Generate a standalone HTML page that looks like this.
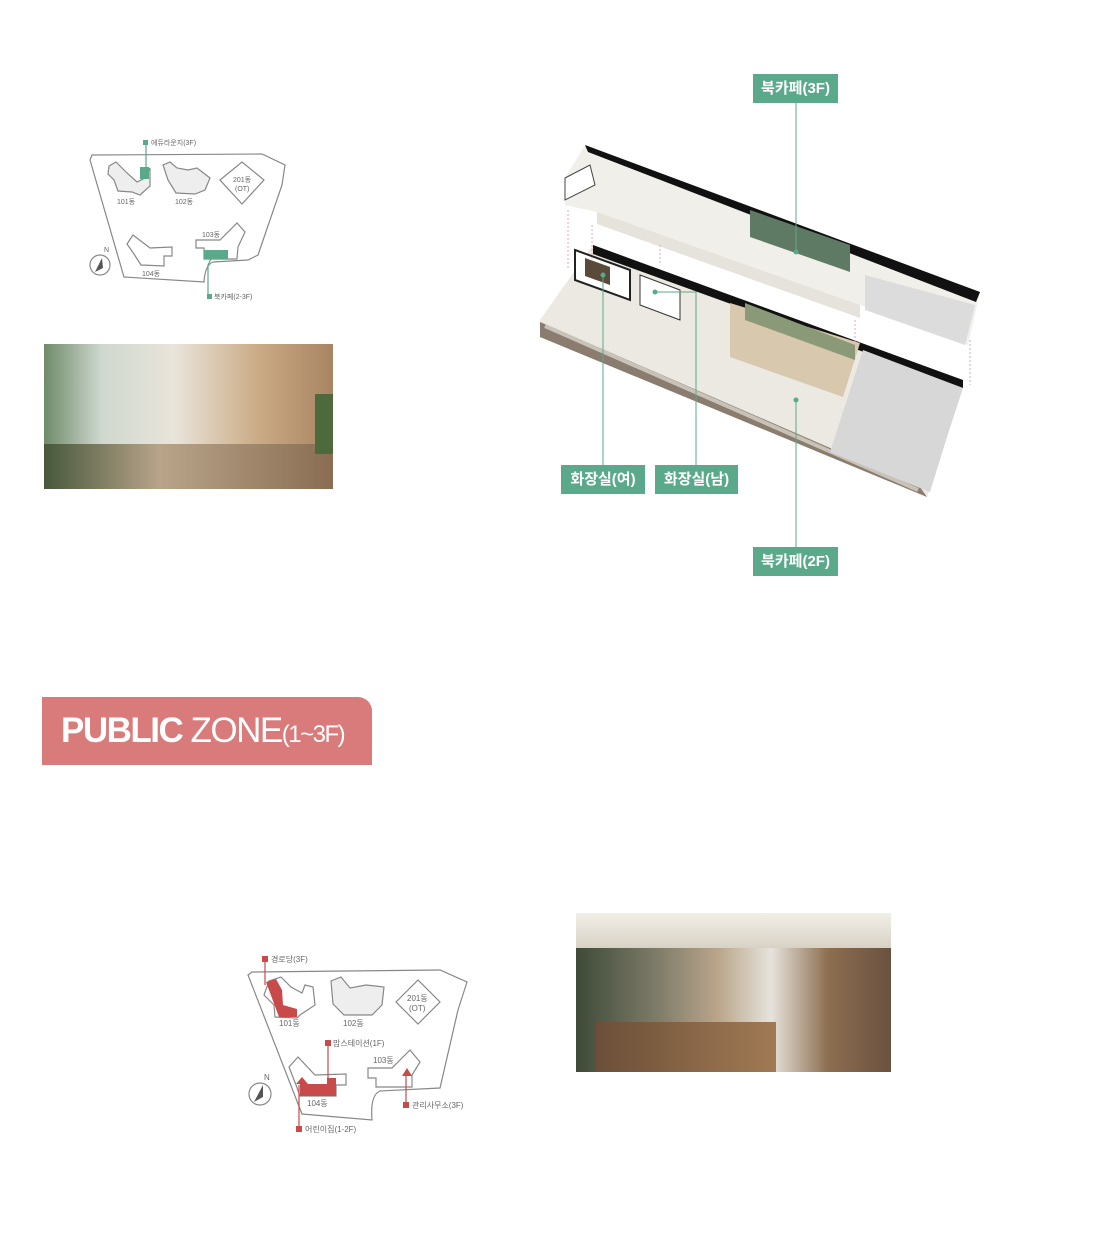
<!DOCTYPE html><html><head><meta charset="utf-8"><style>
body{margin:0;width:1100px;height:1236px;background:#fff;position:relative;overflow:hidden;font-family:"Liberation Sans","Noto Sans CJK KR",sans-serif}
.lb{position:absolute;background:#5aa98a;color:#fff;font-size:15px;font-weight:bold;text-align:center;line-height:29px;height:29px}
.ph{position:absolute}
</style></head><body>
<svg width="1100" height="1236" style="position:absolute;left:0;top:0" font-family="Liberation Sans,Noto Sans CJK KR,sans-serif">
<!-- map 1 -->
<g stroke="#888" stroke-width="1.2" fill="none">
<path d="M92,155 L262,154 L285,165 L282,185 L258,255 L248,260 L213,262 Q205,265 204,282 L124,277 L90,160 Z"/>
<path d="M109,166 L116,162 L126,172 L137,182 L145,178 L150,168 L150,186 L140,195 L132,192 L118,191 L114,180 L108,174 Z" fill="#eee"/>
<path d="M163,165 L170,162 L177,168 L188,170 L197,168 L210,178 L205,190 L195,194 L176,193 L168,180 Z" fill="#eee"/>
<path d="M220,180 L242,162 L264,180 L242,204 Z" fill="#fff"/>
<path d="M127,244 L133,235 L150,248 L172,247 L172,256 L164,256 L164,266 L141,265 L134,254 Z" fill="#fff"/>
<path d="M196,240 L220,240 L237,223 L245,232 L238,247 L237,259 L204,259 L204,248 L196,248 Z" fill="#fff"/>
<line x1="146" y1="143" x2="146" y2="168" stroke="#5aa98a"/>
<polyline points="211,259 208,265 208,296" stroke="#5aa98a"/>
<circle cx="100" cy="265" r="10"/>
</g>
<rect x="140" y="167" width="9" height="12" fill="#5aa98a"/>
<rect x="204" y="250" width="24" height="9" fill="#5aa98a"/>
<rect x="143" y="140" width="5" height="5" fill="#5aa98a"/>
<rect x="207" y="294" width="5" height="5" fill="#5aa98a"/>
<path d="M95,272 L102,258 L103,268 Z" fill="#555"/>
<g font-size="7" fill="#666">
<text x="151" y="145">에듀라운지(3F)</text><text x="214" y="299">북카페(2-3F)</text>
<text x="117" y="204">101동</text><text x="175" y="204">102동</text><text x="233" y="182">201동</text><text x="235" y="191">(OT)</text>
<text x="202" y="237">103동</text><text x="142" y="276">104동</text><text x="104" y="252">N</text></g>

<!-- map 2 -->
<g stroke="#888" stroke-width="1.2" fill="none">
<path d="M252,972 L440,970 L467,982 L458,1010 L440,1088 L380,1091 Q370,1095 372,1120 L302,1114 L248,975 Z"/>
<path d="M269,981 L281,977 L291,987 L302,993 L305,985 L313,987 L315,1005 L300,1015 L297,1018 L275,1017 L274,1005 L264,995 Z" fill="#fff"/>
<path d="M331,981 L341,977 L350,988 L366,985 L384,987 L382,1005 L372,1015 L344,1015 L333,1004 Z" fill="#eee"/>
<path d="M396,1002 L418,980 L440,1002 L418,1024 Z"/>
<path d="M289,1067 L298,1057 L315,1075 L346,1074 L346,1085 L336,1085 L336,1096 L300,1096 L296,1085 Z" fill="#fff"/>
<path d="M368,1068 L392,1068 L410,1050 L420,1062 L412,1075 L412,1087 L376,1087 L376,1078 L368,1078 Z" fill="#fff"/>
<line x1="265" y1="960" x2="265" y2="985" stroke="#c94a4a"/>
<line x1="328" y1="1044" x2="328" y2="1082" stroke="#c94a4a"/>
<line x1="299" y1="1085" x2="299" y2="1128" stroke="#c94a4a"/>
<line x1="406" y1="1075" x2="406" y2="1104" stroke="#c94a4a"/>
<circle cx="260" cy="1094" r="11"/>
</g>
<path d="M266,982 L276,979 L282,990 L283,1005 L297,1009 L297,1017 L279,1017 Z" fill="#c94a4a"/>
<rect x="300" y="1084" width="36" height="12" fill="#c94a4a"/><rect x="327" y="1078" width="9" height="6" fill="#c94a4a"/>
<path d="M296,1084 L302,1077 L308,1084 Z" fill="#c94a4a"/><path d="M402,1076 L407,1068 L412,1076 Z" fill="#c94a4a"/>
<g fill="#c94a4a"><rect x="262" y="956" width="6" height="6"/><rect x="325" y="1040" width="6" height="6"/><rect x="296" y="1126" width="6" height="6"/><rect x="403" y="1102" width="6" height="6"/></g>
<path d="M254,1102 L263,1085 L263,1097 Z" fill="#555"/>
<g font-size="8" fill="#666">
<text x="271" y="962">경로당(3F)</text><text x="333" y="1046">맘스테이션(1F)</text><text x="305" y="1132">어린이집(1-2F)</text><text x="412" y="1108">관리사무소(3F)</text>
<text x="279" y="1026">101동</text><text x="343" y="1026">102동</text><text x="407" y="1001">201동</text><text x="409" y="1011">(OT)</text>
<text x="373" y="1063">103동</text><text x="307" y="1106">104동</text><text x="264" y="1080">N</text></g>

<!-- isometric: lower floor -->
<path d="M593,245 L963,380 L947,437 L927,497 L540,337 L540,320 Z" fill="#ece9e2"/>
<path d="M540,322 L920,487 L927,497 L540,337 Z" fill="#8a7c6e"/>
<path d="M545,326 L918,490" stroke="#c9c2b8" stroke-width="4"/>
<path d="M593,245 L963,380 L963,388 L593,254 Z" fill="#111"/>
<path d="M863,350 L963,388 L947,437 L930,492 L830,452 Z" fill="#d7d7d7"/>
<path d="M730,303 L860,343 L843,397 L730,357 Z" fill="#d8c8ad"/>
<path d="M745,303 L855,345 L855,360 L745,320 Z" fill="#8a9a78"/>
<path d="M575,250 L630,270 L630,300 L575,280 Z" fill="#ffffff" stroke="#222" stroke-width="2"/>
<path d="M585,258 L610,267 L610,285 L585,276 Z" fill="#5a4a3a"/>
<path d="M640,275 L680,290 L680,320 L640,305 Z" fill="#fff" stroke="#333"/>
<!-- upper floor -->
<path d="M585,145 L980,292 L968,345 L860,305 L597,212 L565,205 L565,178 Z" fill="#f1efea"/>
<path d="M585,145 L980,292 L976,302 L588,152 Z" fill="#111"/>
<path d="M750,210 L850,245 L850,272 L750,237 Z" fill="#5e7a64"/>
<path d="M865,275 L975,305 L965,345 L865,310 Z" fill="#dcdcdc"/>
<path d="M597,212 L860,305 L860,318 L597,224 Z" fill="#e6e3dd"/>
<path d="M565,178 L590,165 L595,185 L565,200 Z" fill="#fff" stroke="#444"/>
<g stroke="#e6a6c6" stroke-width="1" stroke-dasharray="2,2"><line x1="568" y1="210" x2="568" y2="270"/><line x1="592" y1="225" x2="592" y2="260"/><line x1="660" y1="245" x2="660" y2="265"/><line x1="855" y1="320" x2="855" y2="345"/><line x1="970" y1="340" x2="970" y2="385"/></g>
<g stroke="#5aa98a" stroke-width="1" fill="none">
<line x1="796" y1="103" x2="796" y2="252"/><polyline points="603,465 603,275"/>
<polyline points="696,465 696,292 655,292"/><line x1="796" y1="400" x2="796" y2="547"/></g>
<g fill="#5aa98a"><circle cx="796" cy="252" r="2.5"/><circle cx="603" cy="275" r="2.5"/><circle cx="655" cy="292" r="2.5"/><circle cx="796" cy="400" r="2.5"/></g>
</svg>
<div class="lb" style="left:753px;top:74px;width:85px">북카페(3F)</div>
<div class="lb" style="left:561px;top:465px;width:84px">화장실(여)</div>
<div class="lb" style="left:655px;top:465px;width:83px">화장실(남)</div>
<div class="lb" style="left:753px;top:547px;width:85px">북카페(2F)</div>

<div class="ph" style="left:44px;top:344px;width:289px;height:145px;background:linear-gradient(90deg,#6f8a6a 0%,#cfd8cf 20%,#e9e4da 45%,#c9a983 75%,#a88463 100%)">
<div style="position:absolute;left:0;bottom:0;width:100%;height:45px;background:linear-gradient(90deg,#47583c,#b8a48a 40%,#8a6d52)"></div>
<div style="position:absolute;right:0;top:50px;width:18px;height:60px;background:#4c6a3b"></div></div>
<div class="ph" style="left:576px;top:913px;width:315px;height:159px;background:linear-gradient(90deg,#3f4a38 0%,#7c7a68 25%,#b9a58a 45%,#e6e3dc 62%,#8d6e50 80%,#6a5240 100%)">
<div style="position:absolute;left:0;top:0;width:100%;height:35px;background:linear-gradient(#f2efe8,#d8d2c6)"></div>
<div style="position:absolute;left:20px;bottom:0;width:180px;height:50px;background:linear-gradient(90deg,#6b4f38,#a17a55)"></div></div>

<div style="position:absolute;left:42px;top:697px;width:330px;height:68px;background:#d97b7b;border-radius:0 14px 0 0;color:#fff;line-height:68px;font-size:35px;letter-spacing:-1.5px;padding-left:19px;box-sizing:border-box"><b>PUBLIC</b> ZONE<span style="font-size:24px">(1~3F)</span></div>
</body></html>
